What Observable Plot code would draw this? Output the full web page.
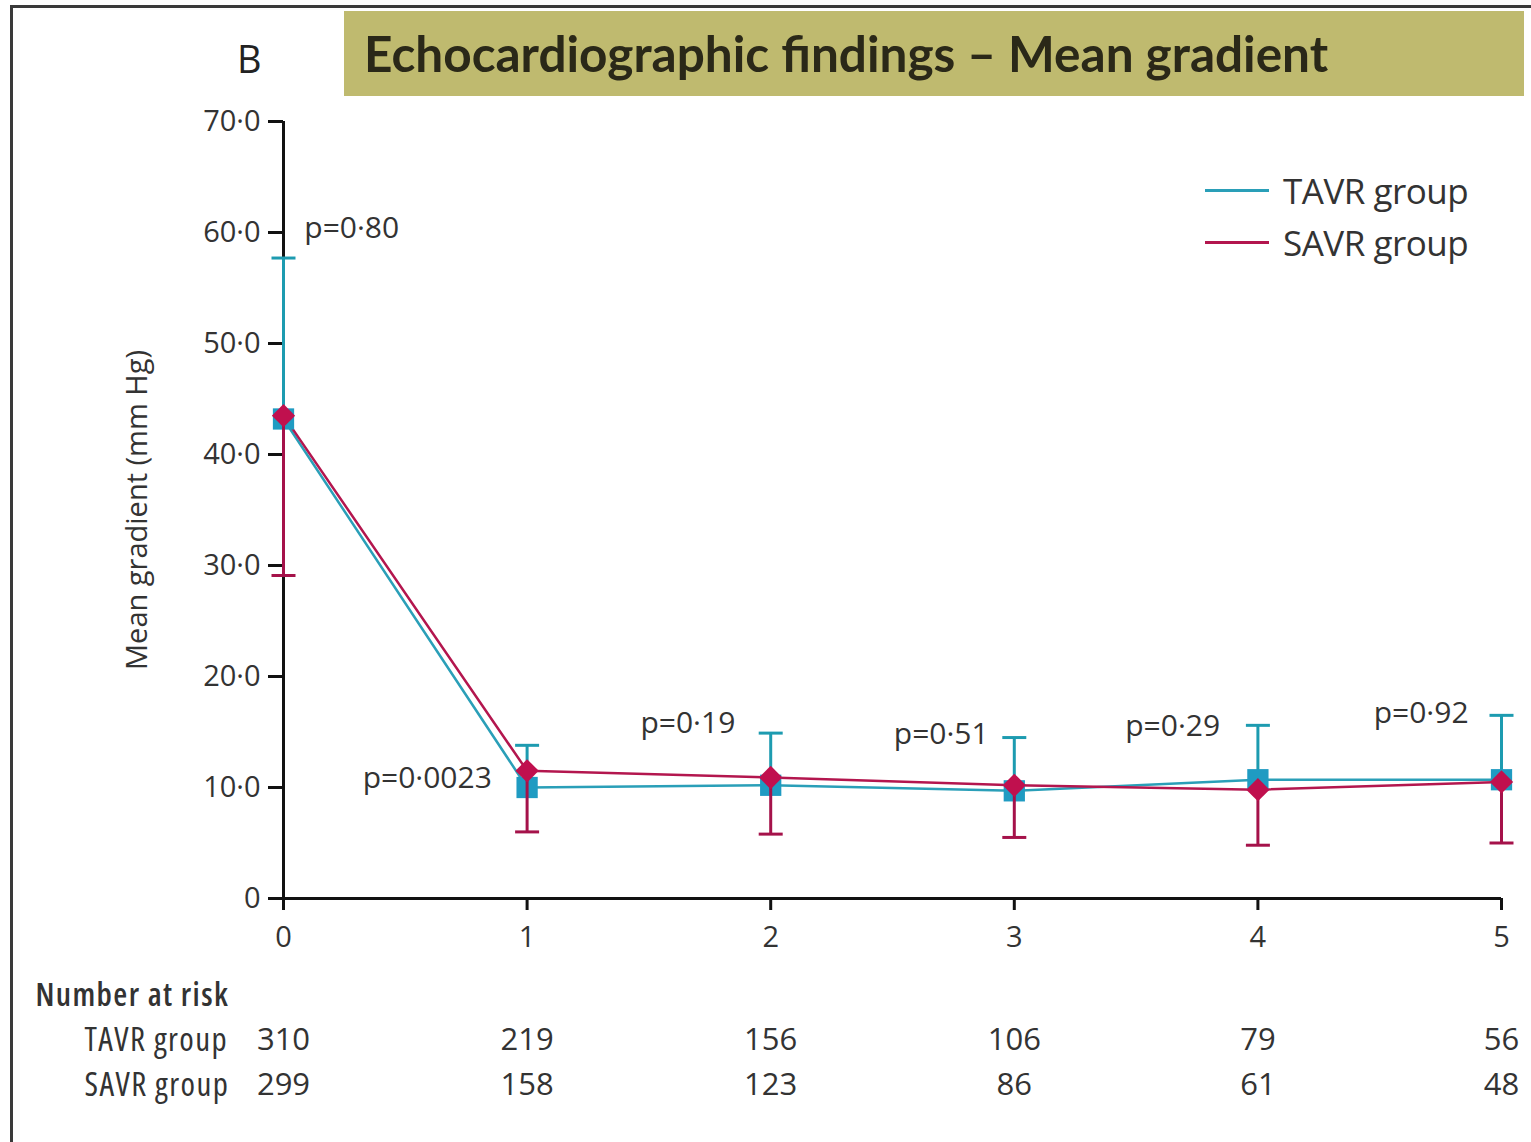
<!DOCTYPE html>
<html><head><meta charset="utf-8">
<script src="https://cdn.jsdelivr.net/npm/d3@7"></script>
<script src="https://cdn.jsdelivr.net/npm/@observablehq/plot@0.6"></script>
<style>
body{margin:0;background:#fff;}
#wrap{position:relative;width:1531px;height:1142px;overflow:hidden;font-family:"Open Sans",sans-serif;background:#fff;}
#frame{position:absolute;left:10px;top:5px;width:1530px;height:1150px;border-left:3px solid #3a3a3a;border-top:3px solid #3a3a3a;}
#chart{position:absolute;left:0;top:0;}
#title{position:absolute;left:344px;top:11px;width:1160px;height:85px;padding-left:20px;background:#BFBA6F;color:#2a2818;font-family:Lato,"Open Sans",sans-serif;font-weight:bold;font-size:49.5px;line-height:85px;white-space:nowrap;}
#panel{position:absolute;left:237px;top:32px;font-size:38px;font-weight:500;color:#222;font-family:"Open Sans",sans-serif;}
#legend{position:absolute;left:1205px;top:164px;font-size:35px;color:#333;font-family:"Open Sans",sans-serif;letter-spacing:-0.5px;}
#legend .row{display:flex;align-items:center;height:52px;}
#legend .sw{width:64px;height:0;border-top:3px solid;margin-right:14px;}
.cond{font-stretch:semi-condensed;letter-spacing:1.4px;}
</style></head><body>
<div id="wrap">
  <div id="frame"></div>
  <div id="chart"></div>
  <div id="title"></div>
  <div id="panel">B</div>
  <div id="legend"></div>
</div>
<script>
// ---- data ----
const titleText = "Echocardiographic findings – Mean gradient";
const groups = ["TAVR group", "SAVR group"];
const years = [0, 1, 2, 3, 4, 5];
const tavrMean  = [43.2, 10.0, 10.2, 9.7, 10.7, 10.7];
const tavrUpper = [57.7, 13.8, 14.9, 14.5, 15.6, 16.5];
const savrMean  = [43.5, 11.5, 10.9, 10.2, 9.8, 10.5];
const savrLower = [29.1, 6.0, 5.8, 5.5, 4.8, 5.0];
const pValues = ["p=0·80", "p=0·0023", "p=0·19", "p=0·51", "p=0·29", "p=0·92"];
const pLabelX = [0.28, 0.59, 1.66, 2.70, 3.65, 4.67];
const pLabelY = [60.4, 10.8, 15.8, 14.8, 15.5, 16.7];
const tavrAtRisk = [310, 219, 156, 106, 79, 56];
const savrAtRisk = [299, 158, 123, 86, 61, 48];
const yTicks = [0, 10, 20, 30, 40, 50, 60, 70];
const yLabel = "Mean gradient (mm Hg)";
const riskTitle = "Number at risk";

// ---- colours ----
const TEAL = "#2a9fb8", TEAL_BAR = "#1d9bb0", TEAL_FILL = "#1f9bc2";
const RED = "#b3164e", RED_BAR = "#a5124a", RED_FILL = "#c0104e";

document.getElementById("title").textContent = titleText;
const leg = document.getElementById("legend");
[[groups[0], TEAL], [groups[1], RED]].forEach(([t, c]) => {
  const r = document.createElement("div"); r.className = "row";
  const s = document.createElement("span"); s.className = "sw"; s.style.borderColor = c;
  const l = document.createElement("span"); l.textContent = t;
  r.append(s, l); leg.append(r);
});

const tavr = years.map((x, i) => ({x, mean: tavrMean[i], bar: tavrUpper[i]}));
const savr = years.map((x, i) => ({x, mean: savrMean[i], bar: savrLower[i]}));
const pl = years.map((x, i) => ({x: pLabelX[i], y: pLabelY[i], text: pValues[i]}));

const capSymbol = {draw(ctx, size) { const h = Math.sqrt(size / Math.PI); ctx.moveTo(-h, 0); ctx.lineTo(h, 0); }};
const fmt = d => d === 0 ? "0" : d.toFixed(1).replace(".", "·");

const chart = Plot.plot({
  width: 1531, height: 1142,
  marginLeft: 283, marginRight: 30, marginTop: 121, marginBottom: 244,
  style: {fontFamily: "'Open Sans', sans-serif", fontSize: "29px", color: "#333", background: "transparent", overflow: "visible"},
  x: {domain: [0, 5]},
  y: {domain: [0, 70]},
  marks: [
    Plot.axisY({ticks: yTicks, tickFormat: fmt, tickSize: 15, tickPadding: 8, strokeWidth: 3, stroke: "#111",
      label: yLabel, labelAnchor: "center", labelArrow: "none", labelOffset: 157, fill: "#333"}),
    Plot.axisX({ticks: years, tickFormat: d => String(d), tickSize: 12, tickPadding: 16, strokeWidth: 3, stroke: "#111", label: null, fill: "#333"}),
    Plot.ruleX([0], {stroke: "#111", strokeWidth: 3}),
    Plot.ruleY([0], {stroke: "#111", strokeWidth: 3}),
    Plot.line(tavr, {x: "x", y: "mean", stroke: TEAL, strokeWidth: 2.5}),
    Plot.line(savr, {x: "x", y: "mean", stroke: RED, strokeWidth: 2.5}),
    Plot.ruleX(tavr, {x: "x", y1: "mean", y2: "bar", stroke: TEAL_BAR, strokeWidth: 3}),
    Plot.dot(tavr, {x: "x", y: "bar", symbol: capSymbol, r: 12, stroke: TEAL_BAR, strokeWidth: 3}),
    Plot.dot(tavr, {x: "x", y: "mean", symbol: "square", r: 12, fill: TEAL_FILL, stroke: null}),
    Plot.ruleX(savr, {x: "x", y1: "mean", y2: "bar", stroke: RED_BAR, strokeWidth: 3}),
    Plot.dot(savr, {x: "x", y: "bar", symbol: capSymbol, r: 12, stroke: RED_BAR, strokeWidth: 3}),
    Plot.dot(savr, {x: "x", y: "mean", symbol: "diamond2", r: 10.5, fill: RED_FILL, stroke: null}),
    Plot.text(pl, {x: "x", y: "y", text: "text", fontSize: 30, fill: "#333"}),
    Plot.text([riskTitle], {frameAnchor: "bottom-left", lineAnchor: "middle", dx: -248, dy: 97, textAnchor: "start", fontSize: 32, fontWeight: 600, fill: "#333", className: "cond"}),
    Plot.text([groups[0]], {frameAnchor: "bottom-left", lineAnchor: "middle", dx: -199, dy: 142, textAnchor: "start", fontSize: 33, fill: "#333", className: "cond"}),
    Plot.text([groups[1]], {frameAnchor: "bottom-left", lineAnchor: "middle", dx: -199, dy: 187, textAnchor: "start", fontSize: 33, fill: "#333", className: "cond"}),
    Plot.text(years, {x: d => d, text: (d, i) => tavrAtRisk[i], frameAnchor: "bottom", lineAnchor: "middle", dy: 142, fontSize: 31, fill: "#333"}),
    Plot.text(years, {x: d => d, text: (d, i) => savrAtRisk[i], frameAnchor: "bottom", lineAnchor: "middle", dy: 187, fontSize: 31, fill: "#333"})
  ]
});
document.getElementById("chart").append(chart);
</script>
</body></html>
